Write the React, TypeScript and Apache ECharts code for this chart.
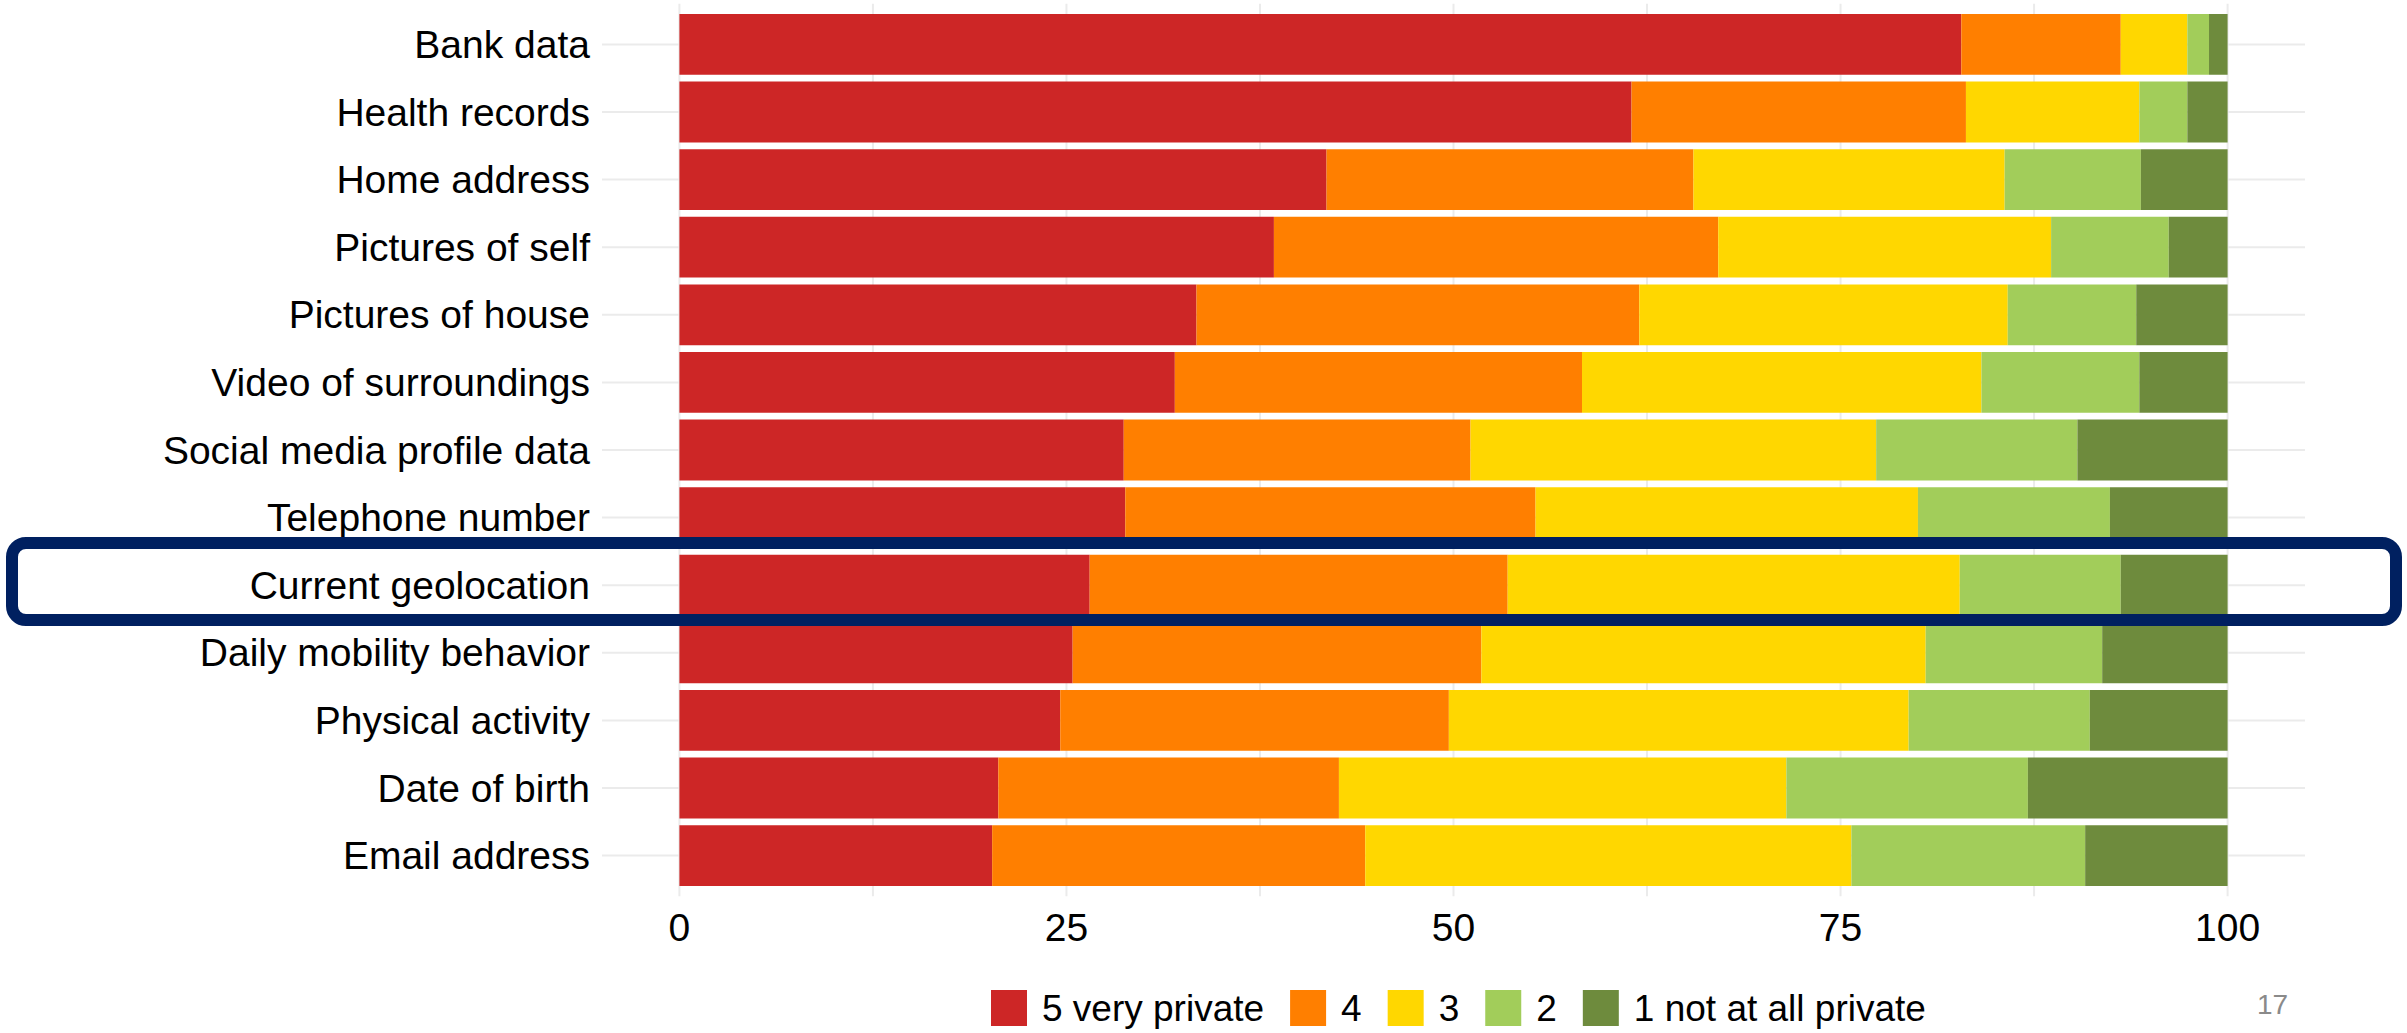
import React, { useEffect, useRef } from "react";
import * as echarts from "echarts";

const categories = [
  "Bank data",
  "Health records",
  "Home address",
  "Pictures of self",
  "Pictures of house",
  "Video of surroundings",
  "Social media profile data",
  "Telephone number",
  "Current geolocation",
  "Daily mobility behavior",
  "Physical activity",
  "Date of birth",
  "Email address",
];

const seriesNames = ["5 very private", "4", "3", "2", "1 not at all private"];
const veryPrivate = [82.8, 61.5, 41.8, 38.4, 33.4, 32.0, 28.7, 28.8, 26.5, 25.4, 24.6, 20.6, 20.2];
const level4 = [10.3, 21.6, 23.7, 28.7, 28.6, 26.3, 22.4, 26.5, 27.0, 26.4, 25.1, 22.0, 24.1];
const level3 = [4.3, 11.2, 20.1, 21.5, 23.8, 25.8, 26.2, 24.7, 29.2, 28.7, 29.7, 28.9, 31.4];
const level2 = [1.4, 3.1, 8.8, 7.6, 8.3, 10.2, 13.0, 12.4, 10.4, 11.4, 11.7, 15.6, 15.1];
const notPrivate = [1.2, 2.6, 5.6, 3.8, 5.9, 5.7, 9.7, 7.6, 6.9, 8.1, 8.9, 12.9, 9.2];
const seriesValues = [veryPrivate, level4, level3, level2, notPrivate];

const colors = ["#CD2626", "#FF7F00", "#FFD700", "#A2CD5A", "#6E8B3D"];
const xTickLabels = [0, 25, 50, 75, 100];
const gridBreaks = [0, 12.5, 25, 37.5, 50, 62.5, 75, 87.5, 100];
const pageNumber = "17";

const FONT = "'Liberation Sans', Arial, sans-serif";
const GRID_COLOR = "#EBEBEB";

export default function App() {
  const ref = useRef<HTMLDivElement>(null);

  useEffect(() => {
    if (!ref.current) return;
    const chart = echarts.init(ref.current, null, { renderer: "svg" });

    const barSeries = seriesNames.map((name, i) => ({
      name,
      type: "bar",
      stack: "total",
      data: seriesValues[i],
      barCategoryGap: "10%",
      itemStyle: { color: colors[i] },
      emphasis: { disabled: true },
      silent: true,
      z: 2,
    }));

    const vGrid = {
      type: "custom",
      name: "vgrid",
      silent: true,
      z: 0,
      data: gridBreaks.map((v) => [v, 0]),
      encode: { x: 0, y: 1 },
      renderItem: (params: any, api: any) => {
        const cs = params.coordSys;
        const x = api.coord([api.value(0), 0])[0];
        const ext = (cs.height / categories.length) * 0.1;
        return {
          type: "line",
          shape: { x1: x, y1: cs.y - ext, x2: x, y2: cs.y + cs.height + ext },
          style: { stroke: GRID_COLOR, lineWidth: 2 },
        };
      },
    };

    const hGrid = {
      type: "custom",
      name: "hgrid",
      silent: true,
      z: 0,
      data: categories.map((c, i) => [0, i]),
      encode: { x: 0, y: 1 },
      renderItem: (params: any, api: any) => {
        const cs = params.coordSys;
        const y = api.coord([0, api.value(1)])[1];
        return {
          type: "line",
          shape: { x1: cs.x, y1: y, x2: cs.x + cs.width, y2: y },
          style: { stroke: GRID_COLOR, lineWidth: 2 },
        };
      },
    };

    chart.setOption({
      animation: false,
      backgroundColor: "#ffffff",
      textStyle: { fontFamily: FONT },
      grid: {
        left: 602,
        right: 102,
        top: 10.6,
        bottom: 143.6,
        containLabel: false,
        outerBoundsMode: "none",
      },
      xAxis: {
        type: "value",
        min: -5,
        max: 105,
        interval: 5,
        axisLine: { show: false },
        axisTick: { show: false },
        splitLine: { show: false },
        axisLabel: {
          fontSize: 39,
          color: "#000000",
          fontFamily: FONT,
          margin: 19,
          formatter: (v: number) => (xTickLabels.includes(Math.round(v * 100) / 100) ? String(Math.round(v)) : ""),
        },
      },
      yAxis: {
        type: "category",
        data: categories,
        inverse: true,
        axisLine: { show: false },
        axisTick: { show: false },
        splitLine: { show: false },
        axisLabel: {
          fontSize: 39,
          color: "#000000",
          fontFamily: FONT,
          margin: 12,
          padding: [7, 0, 0, 0],
        },
      },
      legend: {
        data: seriesNames,
        left: 986,
        top: 983,
        icon: "rect",
        itemWidth: 36,
        itemHeight: 36,
        itemGap: 26,
        selectedMode: false,
        textStyle: {
          fontSize: 37,
          color: "#000000",
          fontFamily: FONT,
          padding: [0, 0, 0, 10],
          lineHeight: 40,
        },
      },
      series: [vGrid, hGrid, ...barSeries],
      graphic: [
        {
          type: "rect",
          z: 100,
          silent: true,
          shape: { x: 12, y: 543, width: 2384, height: 77, r: 14 },
          style: { fill: "none", stroke: "#002060", lineWidth: 12 },
        },
        {
          type: "text",
          z: 100,
          silent: true,
          x: 2257,
          y: 990,
          style: {
            text: pageNumber,
            fontSize: 28,
            fill: "#8A8A8A",
            fontFamily: FONT,
          },
        },
      ],
    });

    return () => {
      chart.dispose();
    };
  }, []);

  return (
    <div
      ref={ref}
      style={{ position: "fixed", left: 0, top: 0, width: 2407, height: 1033, background: "#fff" }}
    />
  );
}
